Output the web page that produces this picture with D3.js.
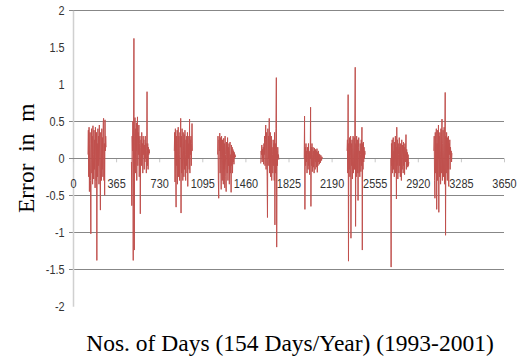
<!DOCTYPE html>
<html><head><meta charset="utf-8">
<script src="https://cdn.jsdelivr.net/npm/d3@7/dist/d3.min.js"></script>
<style>body{margin:0;background:#fff}svg{display:block}</style>
</head><body>
<svg id="chart" width="518" height="360"></svg>
<script>
// ---- data ----
const xTickValues = [0, 365, 730, 1095, 1460, 1825, 2190, 2555, 2920, 3285, 3650];
const yTickValues = [2, 1.5, 1, 0.5, 0, -0.5, -1, -1.5, -2];
const gridValues = [2, 0.5, -0.5, -1, -1.5];
const seasonStartDays = [127, 495, 858, 1225, 1590, 1958, 2321, 2691, 3056];
const daysPerSample = 3;
const season1993 = [0.05,0.38,-0.25,0.42,-0.45,0.2,0.35,-0.3,-1.02,0.1,0.4,-0.2,0.3,-0.35,0.44,0.05,-0.28,0.38,-0.15,0.25,-0.4,0.42,0.1,-0.3,0.35,-1.38,0.2,-0.25,0.4,-0.1,0.3,-0.35,0.45,0.0,-0.2,-0.7,0.35,0.15,-0.3,0.4,-0.15,0.28,-0.25,0.48,0.54,-0.3,0.2,-0.5,0.52,0.1,0.3,0.15];
const season1994 = [-0.05,-0.64,0.3,0.1,0.5,-1.38,0.45,1.62,-1.24,0.3,0.55,-0.2,0.4,0.1,0.48,-0.3,0.2,0.56,-0.1,0.35,0.05,0.45,-0.25,0.2,0.3,-0.75,0.15,0.25,-0.1,0.35,0.0,0.2,-0.2,0.3,0.05,0.25,-0.15,0.18,-0.05,0.3,0.0,0.2,-0.2,0.1,0.9,-0.1,0.2,-0.15,0.15,0.05,0.12,0.07];
const season1995 = [0.1,0.35,-0.32,0.4,-0.2,-0.66,0.3,-0.1,0.38,-0.35,0.2,0.42,-0.25,0.3,0.05,-0.3,0.35,0.15,0.54,-0.74,0.3,-0.2,0.4,0.0,-0.3,0.35,0.1,-0.25,0.32,-0.15,0.38,0.05,-0.3,0.25,-0.1,0.3,-0.2,0.35,-0.38,0.2,0.0,0.3,-0.15,0.53,-0.2,0.25,0.05,0.3,-0.1,0.2,0.47,0.1];
const season1996 = [0.05,0.3,-0.3,-0.54,0.25,0.1,0.34,-0.2,0.28,-0.1,-0.42,0.3,0.0,-0.3,0.25,0.1,-0.35,0.27,-0.15,0.2,-0.4,0.3,0.05,-0.25,-0.45,0.22,0.1,-0.2,0.28,-0.3,0.15,-0.1,0.2,-0.35,0.1,0.22,-0.2,0.05,-0.46,0.18,-0.1,0.15,-0.2,0.12,-0.05,0.1,-0.08,0.08,0.0,0.05,0.02,0.03];
const season1997 = [-0.07,0.1,0.05,0.18,-0.05,0.12,0.0,0.15,-0.08,0.2,0.05,0.3,-0.1,0.25,0.45,-0.15,0.35,0.1,-0.25,-0.8,0.4,-0.1,0.3,0.0,0.54,-0.2,0.2,0.35,-0.25,0.1,0.3,-0.3,0.15,0.05,-0.2,0.25,-0.1,0.2,-0.3,0.35,-0.9,0.2,-0.2,0.4,1.09,-1.2,0.1,-0.1,0.15,0.0,0.05,-0.02];
const season1998 = [0.0,0.57,-0.69,0.15,-0.1,0.2,-0.05,0.1,-0.2,0.15,0.05,-0.15,0.2,-0.1,0.08,-0.22,0.1,0.0,0.69,-0.65,0.15,-0.1,0.2,-0.18,0.05,0.15,-0.12,0.1,-0.2,0.14,0.0,-0.15,0.12,-0.05,0.1,-0.12,0.13,-0.19,0.08,-0.1,0.1,-0.05,0.06,-0.08,0.05,0.0,-0.06,0.04,0.0,-0.03,0.02,0.0];
const season1999 = [0.1,0.25,-0.2,0.86,-1.39,0.2,-0.15,0.28,-0.25,0.1,0.3,-1.08,0.2,-0.1,0.25,-0.28,0.15,0.3,-0.2,0.1,0.28,-0.15,0.5,1.23,-0.92,0.2,-0.25,0.3,0.0,-0.2,0.25,-0.57,0.15,0.28,-0.2,0.1,-0.25,0.2,0.05,-0.18,0.25,-0.1,0.42,-1.24,0.2,-0.15,0.22,-0.05,0.15,0.0,0.1,0.05];
const season2000 = [0.0,-1.47,0.2,-0.1,0.25,-0.2,0.15,0.28,-0.15,0.1,-0.25,0.22,0.0,0.3,-0.2,0.15,-0.55,0.42,-0.1,0.25,-0.28,0.2,0.05,-0.2,0.28,-0.1,0.15,-0.25,0.2,0.0,-0.3,0.25,-0.15,0.18,0.05,-0.2,0.22,-0.1,0.15,-0.22,0.2,-0.05,0.1,0.32,-0.15,0.12,-0.1,0.08,-0.12,0.05,-0.1,-0.05];
const season2001 = [0.1,0.3,-0.3,-0.54,0.35,-0.2,0.25,0.4,-0.69,0.2,-0.3,0.38,0.0,0.45,-0.73,0.3,-0.25,0.35,0.1,-0.35,0.4,-0.2,0.3,0.53,-0.3,0.2,0.38,-0.25,0.1,0.42,-0.35,0.25,0.89,-1.04,0.3,-0.2,0.35,0.0,-0.3,0.28,-0.15,0.3,-0.38,0.2,0.05,0.25,-0.15,0.15,0.0,0.1,-0.05,0.07];
const seasons = [season1993, season1994, season1995, season1996, season1997, season1998, season1999, season2000, season2001];
const yTitle = "Error  in  m";
const xTitle = "Nos. of Days (154 Days/Year) (1993-2001)";

// ---- drawing ----
const svg = d3.select("#chart");
const x = d3.scaleLinear().domain([0, 3650]).range([73, 504]);
const y = d3.scaleLinear().domain([-2, 2]).range([306.3, 10.3]);
const tickFont = "'Liberation Sans',Arial,sans-serif";

// gridlines
svg.append("g").selectAll("line").data(gridValues).join("line")
  .attr("x1", 69).attr("x2", x(3650))
  .attr("y1", d => y(d)).attr("y2", d => y(d))
  .attr("stroke", "#878787").attr("stroke-width", 1).attr("shape-rendering", "crispEdges");

// y axis (labels + light axis line)
const yAxis = d3.axisLeft(y).tickValues(yTickValues).tickSize(0).tickPadding(10).tickFormat(d => String(d));
const gy = svg.append("g").attr("transform", `translate(${x(0)},0)`).call(yAxis);
gy.select(".domain").attr("stroke", "#d0d0d0").attr("stroke-width", 1.5);
gy.selectAll("text").attr("font-family", tickFont).attr("font-size", 13).attr("fill", "#333")
  .attr("transform", "scale(0.84,1)");

// x axis at zero
const xAxis = d3.axisBottom(x).tickValues(xTickValues).tickSize(4).tickPadding(16).tickFormat(d => String(d));
const gx = svg.append("g").attr("transform", `translate(0,${y(0)})`).call(xAxis);
gx.select(".domain").remove();
gx.selectAll(".tick line").attr("stroke", "#c8c8c8");
gx.selectAll("text").attr("font-family", tickFont).attr("font-size", 13).attr("fill", "#333")
  .attr("transform", "scale(0.84,1)");
svg.append("line").attr("x1", 69).attr("x2", x(3650)).attr("y1", y(0)).attr("y2", y(0))
  .attr("stroke", "#878787").attr("stroke-width", 1).attr("shape-rendering", "crispEdges");

// data lines
const line = d3.line().x(d => x(d.day)).y(d => y(d.v));
svg.append("g").selectAll("path").data(seasons.map((vals, k) => vals.map((v, i) => ({day: seasonStartDays[k] + i * daysPerSample, v}))))
  .join("path")
  .attr("d", line).attr("fill", "none").attr("stroke", "#C0504D").attr("stroke-width", 1).attr("stroke-linejoin", "round");

// titles
svg.append("text").attr("transform", `translate(34,${y(0)}) rotate(-90)`).attr("text-anchor", "middle")
  .attr("font-family", "'Liberation Serif','Times New Roman',serif").attr("font-size", 23.5)
  .style("white-space", "pre").text(yTitle);
svg.append("text").attr("x", 290).attr("y", 351).attr("text-anchor", "middle")
  .attr("font-family", "'Liberation Serif','Times New Roman',serif").attr("font-size", 23.5)
  .style("white-space", "pre").text(xTitle);
</script>
</body></html>
